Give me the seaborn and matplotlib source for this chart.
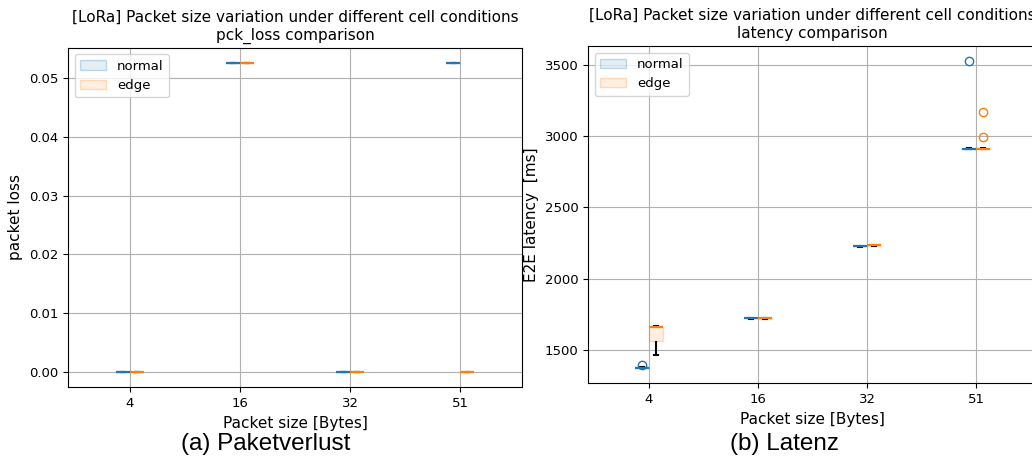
import pandas as pd
import numpy as np
import matplotlib
matplotlib.use("Agg")
import matplotlib.pyplot as plt
import seaborn as sns
from matplotlib.patches import Patch
from matplotlib.colors import to_rgba

sizes = ["4", "16", "32", "51"]
conditions = ["normal", "edge"]
colors = {"normal": "tab:blue", "edge": "tab:orange"}

# packet loss per run, grouped by packet size (4, 16, 32, 51)
loss_normal = [[0.0, 0.0, 0.0], [0.0526, 0.0526, 0.0526], [0.0, 0.0, 0.0], [0.0526, 0.0526, 0.0526]]
loss_edge = [[0.0, 0.0, 0.0], [0.0526, 0.0526, 0.0526], [0.0, 0.0, 0.0], [0.0, 0.0, 0.0]]

# end-to-end latency in ms
lat_normal = [
    [1372, 1374, 1375, 1376, 1378, 1390],
    [1718, 1720, 1721, 1722, 1724],
    [2224, 2225, 2226, 2227, 2228],
    [2907, 2908, 2909, 2910, 2911, 2912, 3523],
]
lat_edge = [
    [1465, 1565, 1658, 1660, 1665],
    [1717, 1719, 1721, 1723, 1725],
    [2228, 2230, 2232, 2234, 2236],
    [2906, 2907, 2908, 2909, 2910, 2911, 2912, 2913, 2995, 3170],
]


def to_long(normal, edge):
    rows = []
    for cond, groups in (("normal", normal), ("edge", edge)):
        for size, vals in zip(sizes, groups):
            for v in vals:
                rows.append((size, cond, v))
    return pd.DataFrame(rows, columns=["size", "cond", "value"])


def draw(ax, df, ylabel, title):
    sns.boxplot(data=df, x="size", y="value", hue="cond", order=sizes, hue_order=conditions,
                palette=colors, saturation=1, width=0.255, gap=0, dodge=True,
                linewidth=1.2, fliersize=6, legend=False, ax=ax)
    for c in ax.containers:
        if not hasattr(c, "boxes"):
            continue
        fc = c.boxes[0].get_facecolor()
        key = "normal" if np.allclose(fc[:3], to_rgba(colors["normal"])[:3], atol=0.02) else "edge"
        col = colors[key]
        for b in c.boxes:
            b.set_facecolor(to_rgba(col, 0.12))
            b.set_edgecolor(to_rgba(col, 0.25))
            b.set_linewidth(1.0)
        for m in c.medians:
            m.set_color(col)
            m.set_linewidth(1.6)
            m.set_zorder(3)
        for w in c.whiskers:
            w.set_color("black")
            w.set_linewidth(1.5)
        for cp in c.caps:
            cp.set_color("black")
            cp.set_linewidth(1.5)
            xd = np.asarray(cp.get_xdata(), dtype=float)
            mid = xd.mean()
            cp.set_xdata(mid + (xd - mid) * 0.5)
        for f in c.fliers:
            f.set_marker("o")
            f.set_markerfacecolor("none")
            f.set_markeredgecolor(col)
            f.set_markersize(6)
    handles = [Patch(facecolor=to_rgba(colors[k], 0.12), edgecolor=to_rgba(colors[k], 0.25)) for k in conditions]
    ax.legend(handles, conditions, loc="upper left", fontsize=9.5)
    ax.set_xlim(-0.56, 3.56)
    ax.grid(True)
    ax.set_axisbelow(True)
    ax.set_xlabel("Packet size [Bytes]", fontsize=11)
    ax.set_ylabel(ylabel, fontsize=11)
    ax.set_title(title, fontsize=11)
    ax.tick_params(labelsize=9.5)
    for s in ax.spines.values():
        s.set_visible(True)


fig = plt.figure(figsize=(10.32, 4.68), dpi=100)
ax1 = fig.add_axes([68 / 1032, 1 - 387.3 / 468, 454 / 1032, 339.6 / 468])
ax2 = fig.add_axes([588 / 1032, 1 - 383.4 / 468, 449 / 1032, 337.4 / 468])

draw(ax1, to_long(loss_normal, loss_edge), "packet loss",
     "[LoRa] Packet size variation under different cell conditions\npck_loss comparison")
draw(ax2, to_long(lat_normal, lat_edge), "E2E latency  [ms]",
     "[LoRa] Packet size variation under different cell conditions\nlatency comparison")

fig.text(266 / 1032, 1 - 444 / 468, "(a) Paketverlust", ha="center", va="center",
         fontsize=17.5, family="Liberation Sans")
fig.text(785 / 1032, 1 - 444 / 468, "(b) Latenz", ha="center", va="center",
         fontsize=17.5, family="Liberation Sans")

fig.savefig("out.png", dpi=100)
